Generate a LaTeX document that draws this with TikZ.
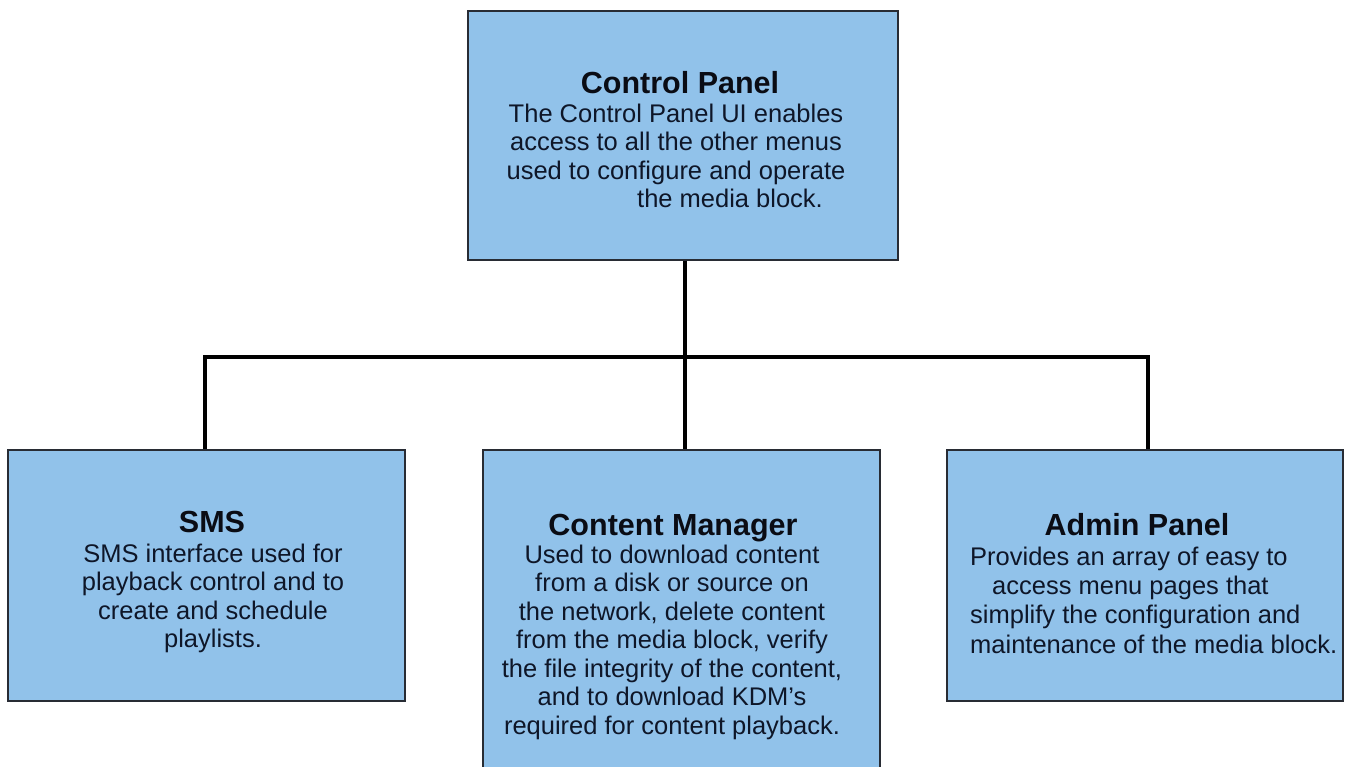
\documentclass[tikz,border=0pt]{standalone}
\usepackage{fontspec}
\setmainfont{Liberation Sans}
\begin{document}
\begin{tikzpicture}[x=1pt,y=1pt,
  box/.style={draw={rgb,255:red,40;green,44;blue,52}, line width=1.2pt,
    fill={rgb,255:red,145;green,194;blue,234}, rectangle, inner sep=0pt},
  title/.style={anchor=base, inner sep=0pt, text={rgb,255:red,10;green,12;blue,20},
    font=\fontsize{30.5}{30}\selectfont\bfseries},
  body/.style={anchor=base, inner sep=0pt, text={rgb,255:red,14;green,22;blue,40},
    font=\fontsize{25.5}{28.5}\selectfont},
  conn/.style={line width=4.5pt, black, line join=miter}]
\useasboundingbox (0,0) rectangle (1352,-766);
\fill[white] (0,0) rectangle (1352,-766);

% boxes
\node[box, minimum width=430pt, minimum height=249pt] (cp) at (683,-135.5) {};
\node[box, minimum width=397pt, minimum height=251pt] (sms) at (206.5,-575.5) {};
\node[box, minimum width=397pt, minimum height=330pt] (cm) at (681.5,-615) {};
\node[box, minimum width=396pt, minimum height=251pt] (ad) at (1145,-575.5) {};

% tree connectors
\coordinate (hub) at (685,-357);
\coordinate (jl) at (205,-357);
\coordinate (jr) at (1148,-357);
\draw[conn] (hub |- cp.south) -- (hub |- cm.north);
\draw[conn] (jl |- sms.north) -- (jl) -- (jr) -- (jr |- ad.north);

% Control Panel text (multi-line nodes sit on the baseline of their last line)
\node[title] (cpt) at (680,-93) {Control Panel};
\node[body, align=center] (cpb) at (676,-207.5)
  {The Control Panel UI enables\\access to all the other menus\\used to configure and operate\\\hspace*{108pt}the media block.};

% SMS text
\node[title] (smst) at (212,-532) {SMS};
\node[body, align=center] (smsb) at (213,-647.5)
  {SMS interface used for\\playback control and to\\create and schedule\\playlists.};

% Content Manager text
\node[title] (cmt) at (673,-535) {Content Manager};
\node[body, align=center] (cmb) at (672,-734)
  {Used to download content\\from a disk or source on\\the network, delete content\\from the media block, verify\\the file integrity of the content,\\and to download KDM’s\\required for content playback.};

% Admin Panel text
\node[title] (adt) at (1137,-535) {Admin Panel};
\node[body, anchor=base west, align=left,
  font=\fontsize{25.5}{29.3}\selectfont] (adb) at (970,-653)
  {Provides an array of easy to\\\hspace*{22pt}access menu pages that\\simplify the configuration and\\maintenance of the media block.};
\end{tikzpicture}
\end{document}
